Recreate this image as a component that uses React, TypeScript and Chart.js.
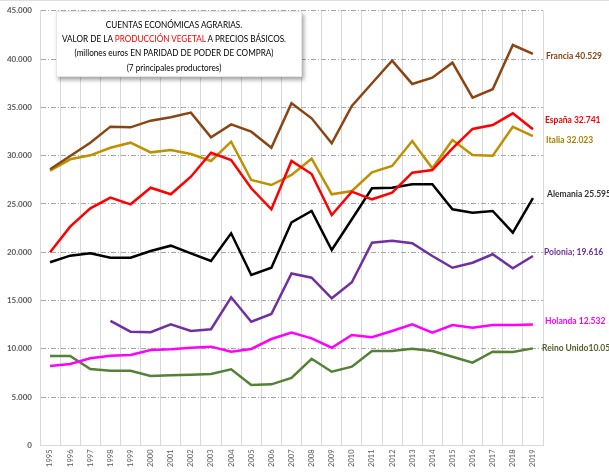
import React, { useEffect, useRef } from "react";
import { Chart, registerables } from "chart.js";

Chart.register(...registerables);

const years = ["1995","1996","1997","1998","1999","2000","2001","2002","2003","2004","2005","2006","2007","2008","2009","2010","2011","2012","2013","2014","2015","2016","2017","2018","2019"];

const francia = [28590, 29960, 31340, 33000, 32930, 33620, 33970, 34450, 31900, 33240, 32480, 30820, 35420, 33860, 31280, 35140, 37490, 39830, 37420, 38070, 39620, 36000, 36870, 41450, 40529];
const espana = [20000, 22650, 24550, 25650, 24960, 26680, 26000, 27820, 30300, 29550, 26620, 24450, 29450, 28100, 23860, 26270, 25480, 26160, 28240, 28510, 30760, 32760, 33170, 34380, 32741];
const italia = [28440, 29620, 30030, 30820, 31340, 30340, 30580, 30170, 29450, 31440, 27480, 26960, 28000, 29680, 26000, 26340, 28280, 28930, 31520, 28690, 31620, 30070, 30000, 32990, 32023];
const alemania = [18960, 19650, 19890, 19440, 19440, 20130, 20680, 19890, 19100, 21960, 17650, 18400, 23100, 24270, 20230, 23410, 26620, 26680, 27030, 27030, 24450, 24100, 24270, 22030, 25595];
const polonia = [null, null, null, 12890, 11780, 11720, 12540, 11850, 12030, 15340, 12810, 13610, 17800, 17370, 15230, 16890, 20990, 21200, 20930, 19610, 18400, 18920, 19790, 18340, 19616];
const holanda = [8230, 8440, 9020, 9290, 9370, 9880, 9950, 10120, 10230, 9710, 9990, 11020, 11680, 11090, 10120, 11440, 11200, 11850, 12540, 11680, 12470, 12190, 12470, 12470, 12532];
const reinoUnido = [9260, 9260, 7920, 7740, 7740, 7190, 7260, 7330, 7400, 7880, 6260, 6330, 7000, 8980, 7640, 8160, 9780, 9780, 10020, 9780, 9190, 8570, 9710, 9680, 10054];

const endLabels = ["Francia 40.529", "España 32.741", "Italia 32.023", "Alemania 25.595", "Polonia; 19.616", "Holanda 12.532", "Reino Unido10.054"];

const yTickValues = [0, 5000, 10000, 15000, 20000, 25000, 30000, 35000, 40000, 45000];
const yTickLabels = ["0", "5.000", "10.000", "15.000", "20.000", "25.000", "30.000", "35.000", "40.000", "45.000"];

const titleLines = [
  "CUENTAS ECONÓMICAS AGRARIAS.",
  "VALOR DE LA ",
  "PRODUCCIÓN VEGETAL",
  " A PRECIOS BÁSICOS.",
  "(millones euros EN PARIDAD DE PODER DE COMPRA)",
  "(7 principales productores)",
];

// styles (not data)
const lineColors = ["#8B4513", "#FF0000", "#BF9000", "#000000", "#7030A0", "#FF00FF", "#548235"];
const labelColors = ["#8B4513", "#FF0000", "#A68000", "#333333", "#7030A0", "#FF00FF", "#4F6228"];
const labelDy = [2, -9, 4, -4, -4, -3.5, 0];
const labelDx = [3, 2, 3, 4, 1, 2, -1];

const labelsPlugin = {
  id: "customLabels",
  afterDraw(chart: any) {
    const ctx = chart.ctx;
    const ys = chart.scales.y;
    ctx.save();
    ctx.font = "bold 8px Lato, 'Liberation Sans', sans-serif";
    ctx.fillStyle = "#595959";
    ctx.textAlign = "right";
    ctx.textBaseline = "middle";
    yTickValues.forEach((v, i) => {
      ctx.fillText(yTickLabels[i], chart.chartArea.left - 8, ys.getPixelForValue(v));
    });
    ctx.font = "bold 8.5px Lato, 'Liberation Sans', sans-serif";
    ctx.textAlign = "left";
    chart.data.datasets.forEach((ds: any, i: number) => {
      const meta = chart.getDatasetMeta(i);
      const last = meta.data[meta.data.length - 1];
      if (!last) return;
      ctx.fillStyle = labelColors[i];
      ctx.fillText(endLabels[i], chart.chartArea.right + labelDx[i], last.y + labelDy[i]);
    });
    ctx.restore();
  },
};

export default function App() {
  const ref = useRef<HTMLCanvasElement | null>(null);

  useEffect(() => {
    if (!ref.current) return;
    const series = [francia, espana, italia, alemania, polonia, holanda, reinoUnido];
    const names = ["Francia", "España", "Italia", "Alemania", "Polonia", "Holanda", "Reino Unido"];
    const chart = new Chart(ref.current, {
      type: "line",
      data: {
        labels: years,
        datasets: series.map((d, i) => ({
          label: names[i],
          data: d as any,
          borderColor: lineColors[i],
          backgroundColor: lineColors[i],
          borderWidth: 2.5,
          pointRadius: 0,
          tension: 0,
          spanGaps: false,
        })),
      },
      options: {
        animation: false,
        responsive: true,
        maintainAspectRatio: false,
        layout: { padding: { top: 10.7, right: 66, left: 0, bottom: 0 } },
        plugins: {
          legend: { display: false },
          tooltip: { enabled: false },
          title: { display: false },
        },
        scales: {
          x: {
            offset: true,
            grid: { offset: true, color: "#D9D9D9", lineWidth: 1, drawTicks: false },
            border: { display: true, color: "#D9D9D9" },
            ticks: {
              autoSkip: false,
              minRotation: 90,
              maxRotation: 90,
              padding: 4,
              color: "#595959",
              font: { size: 7.5, family: "Lato, 'Liberation Sans', sans-serif" },
            },
            afterFit: (s: any) => { s.height = 30.5; },
          },
          y: {
            min: yTickValues[0],
            max: yTickValues[yTickValues.length - 1],
            grid: { color: "#A6A6A6", lineWidth: 1, drawTicks: false },
            border: { display: true, color: "#D9D9D9", dash: [5, 2, 1, 2] },
            ticks: { stepSize: yTickValues[1] - yTickValues[0], display: false },
            afterFit: (s: any) => { s.width = 40; },
          },
        },
      },
      plugins: [labelsPlugin],
    });
    return () => chart.destroy();
  }, []);

  const lineStyle: React.CSSProperties = {
    display: "flex",
    justifyContent: "center",
    transform: "scaleX(0.86)",
    transformOrigin: "50% 50%",
  };

  return (
    <div style={{ position: "fixed", left: 0, top: 0, width: 609, height: 476, background: "#fff" }}>
      <canvas ref={ref} />
      <div style={{ position: "absolute", left: 0, top: 0, width: 609, height: 1, background: "#E0E0E0" }} />
      <div
        style={{
          position: "absolute",
          left: 56,
          top: 11,
          width: 246,
          height: 66,
          background: "#fff",
          boxShadow: "2px 3px 4px rgba(0,0,0,0.35)",
          border: "1px solid #E6E6E6",
          boxSizing: "border-box",
          fontFamily: "Lato, 'Liberation Sans', sans-serif",
          fontSize: 9.5,
          lineHeight: "14.2px",
          color: "#000",
          paddingTop: 6,
          paddingRight: 10,
          whiteSpace: "nowrap",
        }}
      >
        <div style={lineStyle}><span>{titleLines[0]}</span></div>
        <div style={lineStyle}>
          <span>
            {titleLines[1]}
            <span style={{ color: "#FF0000" }}>{titleLines[2]}</span>
            {titleLines[3]}
          </span>
        </div>
        <div style={lineStyle}><span>{titleLines[4]}</span></div>
        <div style={lineStyle}><span>{titleLines[5]}</span></div>
      </div>
    </div>
  );
}
